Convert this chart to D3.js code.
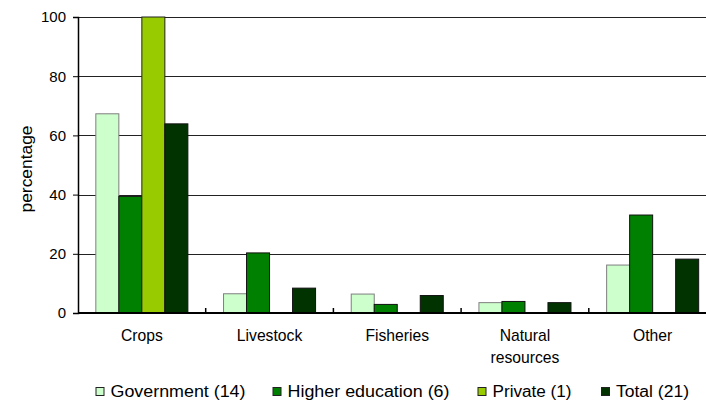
<!DOCTYPE html>
<html>
<head>
<meta charset="utf-8">
<script src="https://cdn.jsdelivr.net/npm/d3@7"></script>
<style>
  html, body { margin: 0; padding: 0; background: #fff; overflow: hidden; }
  svg { display: block; font-family: "Liberation Sans", Arial, sans-serif; }
</style>
</head>
<body>
<svg id="chart" width="706" height="403"></svg>
<script>
const categories = ["Crops", "Livestock", "Fisheries", "Natural resources", "Other"];
const seriesNames = ["Government (14)", "Higher education (6)", "Private (1)", "Total (21)"];
const government = [67.3, 6.5, 6.4, 3.5, 16.2];
const higherEducation = [39.4, 20.3, 2.9, 3.9, 33.1];
const privateSector = [100, 0, 0, 0, 0];
const total = [63.9, 8.4, 5.9, 3.5, 18.2];
const yTicks = [0, 20, 40, 60, 80, 100];

const seriesValues = [government, higherEducation, privateSector, total];
const colors = ["#CCFFCC", "#008000", "#99CC00", "#003300"];
const strokes = ["#7f7f7f", "#111", "#222", "#111"];

const svg = d3.select("#chart");
const mLeft = 78, mTop = 17, mBottom = 313, mRight = 716.5;

const x0 = d3.scaleBand().domain(categories).range([mLeft, mRight]).paddingInner(0).paddingOuter(0);
const x1 = d3.scaleBand().domain(d3.range(seriesNames.length)).range([0, x0.bandwidth()])
  .paddingInner(0).paddingOuter(0.775);
const y = d3.scaleLinear().domain([0, 100]).range([mBottom, mTop]);

// gridlines
svg.append("g").selectAll("line").data(yTicks.filter(d => d > 0)).join("line")
  .attr("x1", mLeft).attr("x2", 706)
  .attr("y1", d => Math.round(y(d)) + 0.5).attr("y2", d => Math.round(y(d)) + 0.5)
  .attr("stroke", "#222").attr("stroke-width", 1);

// bars
const groups = svg.append("g").selectAll("g").data(categories).join("g")
  .attr("transform", d => `translate(${x0(d)},0)`);
groups.selectAll("rect")
  .data((c, ci) => seriesValues.map((arr, si) => ({ si, v: arr[ci] })).filter(d => d.v > 0))
  .join("rect")
  .attr("x", d => x1(d.si))
  .attr("width", x1.bandwidth())
  .attr("y", d => y(d.v))
  .attr("height", d => y(0) - y(d.v))
  .attr("fill", d => colors[d.si])
  .attr("stroke", d => strokes[d.si])
  .attr("stroke-width", 1);

// y axis
const yAxis = d3.axisLeft(y).tickValues(yTicks).tickSize(5).tickPadding(7).tickFormat(d3.format("d"));
const yg = svg.append("g").attr("transform", `translate(${mLeft},0)`).call(yAxis);
yg.select(".domain").attr("stroke", "#000").attr("stroke-width", 1.5);
yg.selectAll(".tick line").attr("stroke", "#000");
yg.selectAll(".tick text").attr("font-size", 15).attr("font-family", "Liberation Sans, Arial, sans-serif").attr("fill", "#000");

// x axis baseline and inner ticks
svg.append("line").attr("x1", mLeft).attr("x2", 706).attr("y1", mBottom).attr("y2", mBottom)
  .attr("stroke", "#000").attr("stroke-width", 2);
const boundaries = categories.map(c => x0(c)).concat([mRight]);
svg.append("g").selectAll("line").data(boundaries.slice(1)).join("line")
  .attr("x1", d => d).attr("x2", d => d).attr("y1", mBottom).attr("y2", mBottom - 5)
  .attr("stroke", "#000").attr("stroke-width", 1.5);

// category labels
const labelG = svg.append("g");
categories.forEach(c => {
  const words = c === "Natural resources" ? ["Natural", "resources"] : [c];
  words.forEach((w, i) => {
    labelG.append("text")
      .attr("x", x0(c) + x0.bandwidth() / 2)
      .attr("y", 341 + i * 21.5)
      .attr("text-anchor", "middle")
      .attr("font-size", 15.7)
      .attr("fill", "#000")
      .text(w);
  });
});

// y title
svg.append("text")
  .attr("transform", "translate(32,169) rotate(-90)")
  .attr("text-anchor", "middle")
  .attr("font-size", 16)
  .attr("textLength", 87)
  .attr("lengthAdjust", "spacingAndGlyphs")
  .text("percentage");

// legend
const legendX = [95.5, 272.5, 477.5, 601];
const legendW = [135, 162, 79, 73];
const lg = svg.append("g");
seriesNames.forEach((name, i) => {
  lg.append("rect").attr("x", legendX[i] + 0.5).attr("y", 387.5).attr("width", 8).attr("height", 8)
    .attr("fill", colors[i]).attr("stroke", "#222").attr("stroke-width", 1);
  lg.append("text").attr("x", legendX[i] + 15).attr("y", 397)
    .attr("font-size", 16)
    .attr("textLength", legendW[i])
    .attr("lengthAdjust", "spacingAndGlyphs")
    .attr("fill", "#000")
    .text(name);
});
</script>
</body>
</html>
